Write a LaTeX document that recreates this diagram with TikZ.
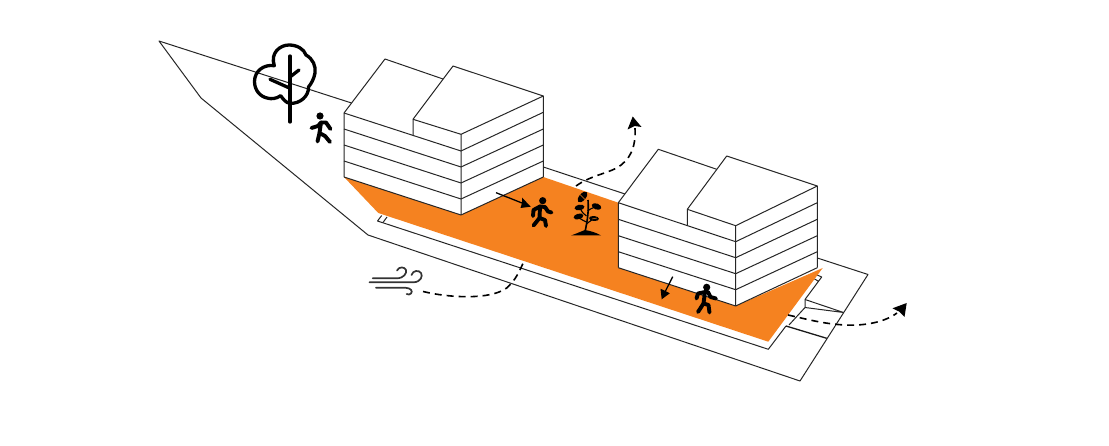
\documentclass[tikz,border=0pt]{standalone}
\usetikzlibrary{arrows.meta}
\definecolor{plaza}{HTML}{F58220}
\tikzset{
  thin line/.style={line width=1pt,draw=black!85,line join=round},
  flowpath/.style={line width=1.6pt,draw=black,dash pattern=on 7pt off 5pt},
  limb/.style={line width=3.9pt,draw=black,line cap=round,line join=round},
  icon/.style={line width=3.3pt,draw=black,line cap=round,line join=round},
  windline/.style={line width=1.7pt,draw=black!80,line cap=round},
}
\begin{document}
\begin{tikzpicture}[x=1pt,y=-1pt]
\useasboundingbox (0,0) rectangle (1109,446);
\fill[white] (0,0) rectangle (1109,446);
% site
\draw[thin line] (351.5,103) -- (159,41) -- (201,98) -- (368,235) -- (800,381) -- (868,274.5) -- (817.3,258);
\draw[thin line] (543.3,167) -- (625,194);
% street edge
\draw[thin line] (381.7,215.5) -- (377.5,221) -- (768.3,349.3) -- (786,326);
\draw[thin line] (383,222.5) -- (387,217);
\draw[line width=1.3pt,black!90] (786,326) -- (826.7,338.3);
\draw[thin line] (789,325) -- (805,307.5) -- (805,299.5) -- (815,286) -- (821.7,277) -- (816,274.5) -- (813,278) -- (818,281);
\draw[thin line] (805,299.5) -- (843.5,312.5) -- (805,307.5);
% plaza
\fill[plaza] (344,177) -- (461,215) -- (543.3,177) -- (618.3,202.7) -- (618.3,267.7) -- (735.7,306) -- (822.7,268) -- (768.3,341.7) -- (378.3,213) -- cycle;
% building 1
\draw[thin line] (344,177) -- (461,215) -- (543.3,177);
\draw[thin line] (344,177) -- (344,113) -- (385,59) -- (443,79);
\draw[thin line] (344,113) -- (461,151) -- (461,215);
\draw[thin line] (344,129) -- (461,167);
\draw[thin line] (344,145) -- (461,183);
\draw[thin line] (344,161) -- (461,199);
\draw[thin line] (413,135) -- (413,119.3) -- (453,66) -- (543.3,96) -- (543.3,177);
\draw[thin line] (413,119.3) -- (461,134.3) -- (461,151);
\draw[thin line] (461,134.3) -- (543.3,96);
\draw[thin line] (461,151) -- (543.3,112.3);
\draw[thin line] (461,167) -- (543.3,129);
\draw[thin line] (461,183) -- (543.3,145);
\draw[thin line] (461,199) -- (543.3,161);
% building 2
\draw[thin line] (618.3,267.7) -- (735.7,306) -- (817.3,267.7);
\draw[thin line] (618.3,267.7) -- (618.3,202.7) -- (658.3,149.3) -- (716.7,169.3);
\draw[thin line] (618.3,202.7) -- (735.7,241.7) -- (735.7,306);
\draw[thin line] (618.3,219.3) -- (735.7,257.7);
\draw[thin line] (618.3,235.7) -- (735.7,273.7);
\draw[thin line] (618.3,251.7) -- (735.7,289.7);
\draw[thin line] (687.3,225.5) -- (687.3,209.3) -- (726.7,156) -- (817.3,186) -- (817.3,267.7);
\draw[thin line] (687.3,209.3) -- (735.7,225.7) -- (735.7,241.7);
\draw[thin line] (735.7,225.7) -- (817.3,186);
\draw[thin line] (735.7,241.7) -- (817.3,202.7);
\draw[thin line] (735.7,257.7) -- (817.3,219.3);
\draw[thin line] (735.7,273.7) -- (817.3,235.7);
\draw[thin line] (735.7,289.7) -- (817.3,251.7);
% flow paths
\draw[flowpath] (423,291.5) .. controls (450,298) and (490,300) .. (506.7,288) .. controls (516,280) and (520,270) .. (524.5,260);
\draw[flowpath] (576,186) .. controls (590,176) and (605,174) .. (616.7,168) .. controls (630,160) and (636,148) .. (635,128);
\fill[black] (632.7,116.5) -- (641.5,127) -- (634.5,126) -- (627.5,129.5) -- cycle;
\draw[flowpath] (788,315) .. controls (810,320) and (825,324) .. (845,325) .. controls (865,326) and (885,322) .. (897,313);
\fill[black] (906.7,303) -- (904.5,317) -- (899,311.5) -- (892.5,308.3) -- cycle;
% small arrows
\draw[line width=1.3pt,black] (496,192.7) -- (522,203);
\fill[black] (530.7,206.7) -- (520.5,208) -- (522,203) -- (522,197.5) -- cycle;
\draw[line width=1.3pt,black] (672.7,276.7) -- (665.5,291);
\fill[black] (661.7,299.3) -- (660.5,288.7) -- (665.5,291) -- (669.8,293.3) -- cycle;
% tree
\draw[icon]
  (280.7,95.7) .. controls (276,99) and (271,99) .. (268.3,98.3)
  .. controls (260,97) and (254.5,90) .. (254.5,81.5)
  .. controls (254.5,71) and (264,64) .. (274.3,65.7)
  .. controls (270,53) and (280,45) .. (289,45)
  .. controls (297,45) and (304,49) .. (306,55)
  .. controls (313,59) and (316,66) .. (315,73)
  .. controls (314,79) and (311,84) .. (308.5,87)
  .. controls (309,96) and (300,104) .. (290,103.3)
  .. controls (286,103) and (283,99) .. (280.7,95.7) -- cycle;
\draw[icon] (290,56) -- (290,122);
\draw[icon] (290,77) -- (299,70);
\draw[icon] (290,88.3) -- (270,79.3);
% people
\fill (320,116) circle (3.6);
\draw[limb] (311.5,128) -- (318,126) -- (321,122.5) -- (326,122.5) -- (330.5,129);
\draw[limb] (321,122.5) -- (319.5,133) -- (317.5,141.5);
\draw[limb] (319.5,133) -- (325,136) -- (330,142);
\fill (542.7,200.7) circle (3.6);
\draw[limb] (533,216) -- (533.5,210) -- (540,206.5) -- (545,207) -- (548,211.5) -- (551.5,212.5);
\draw[limb] (540,206.5) -- (539.5,218) -- (533.5,225.5);
\draw[limb] (539.5,218) -- (545,220) -- (546,226);
\fill (706.7,287.3) circle (3.6);
\draw[limb] (696.5,298.5) -- (698,293.5) -- (705,292) -- (708,292) -- (710.5,297) -- (716,298.5);
\draw[limb] (705,292) -- (703.5,303.5) -- (698,312);
\draw[limb] (703.5,303.5) -- (708.5,305) -- (709.5,312.5);
% plant
\fill (571,235.5) .. controls (578,233) and (582,231) .. (585,230) .. controls (590,231) and (595,232) .. (601,235.5) -- cycle;
\draw[line width=1.6pt] (588,200) .. controls (589,212) and (587,222) .. (585,232);
\draw[line width=1.1pt] (586.5,216) .. controls (584,214) and (582,213) .. (580,207.5);
\draw[line width=1.1pt] (587.5,211) .. controls (590,209) and (592,208) .. (596,207);
\draw[line width=1.1pt] (586.5,222) .. controls (584,221) and (582,220) .. (578,217);
\draw[line width=1.1pt] (586.5,224) .. controls (590,221) and (592,220) .. (594,218.5);
\fill[rotate around={50:(582.5,197)}] (582.5,197) ellipse (6.5 and 3.3);
\fill[rotate around={-20:(596.5,206.5)}] (596.5,206.5) ellipse (5 and 3);
\fill[rotate around={10:(579.5,207.5)}] (579.5,207.5) ellipse (5 and 2.8);
\fill[rotate around={15:(578.5,216.5)}] (578.5,216.5) ellipse (5 and 2.8);
\fill[rotate around={-5:(594,218.5)}] (594,218.5) ellipse (5 and 2.5);
\draw[plaza,line width=0.4pt] (580,194.5) -- (585,199.5);
\draw[plaza,line width=0.4pt] (592,219) -- (597,218);
% wind
\draw[windline] (372.7,278.3) -- (396.7,278.3) .. controls (404,278.3) and (407,273) .. (406,270) .. controls (405,267) and (399,266) .. (397,270.5);
\draw[windline] (369.5,282.3) -- (413.5,282.3) .. controls (421,282) and (423,276) .. (421,273) .. controls (419,270) and (413,270) .. (411.5,275);
\draw[windline] (376,287.7) -- (405,287.7) .. controls (411,288) and (413,291) .. (411,293.5) .. controls (410,295) and (408,294.5) .. (406.7,294);
\end{tikzpicture}
\end{document}
